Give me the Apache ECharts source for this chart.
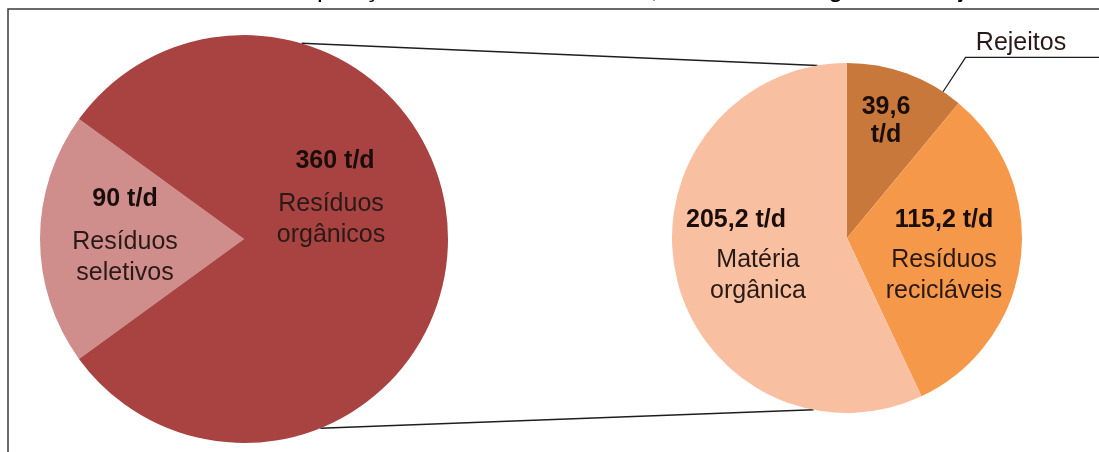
<!DOCTYPE html>
<html>
<head>
<meta charset="utf-8">
<script src="https://cdn.jsdelivr.net/npm/echarts@6/dist/echarts.min.js"></script>
<style>
  html, body { margin: 0; padding: 0; background: #fff; }
  #chart { width: 1099px; height: 452px; }
</style>
</head>
<body>
<div id="chart"></div>
<script>
// Daily waste split: total stream, then the organic stream broken down
const titleText = 'Composição dos resíduos sólidos, em toneladas geradas hoje';
const totalCategories = ['Resíduos seletivos', 'Resíduos orgânicos'];
const totalValues = [90, 360];
const organicCategories = ['Rejeitos', 'Resíduos recicláveis', 'Matéria orgânica'];
const organicValues = [39.6, 115.2, 205.2];
const unit = 't/d';

// Geometry and styling
const W = 1099;
const FONT = '"Liberation Sans", Arial, sans-serif';
const LEFT = { cx: 244, cy: 239, r: 204 };
const RIGHT = { cx: 847, cy: 238, r: 175 };
const leftColors = ['#CF8D8C', '#A84342'];
const rightColors = ['#C8783B', '#F5984A', '#F8C0A1'];
const leftLabelPos = [[125, 171], [331, 133]];
const rightLabelPos = [[886, 93], [944, 196], [758, 196]];
const rejeitosNamePos = [1021, 43];
const TEXT = '#2a1a17';
const BOLD = '#1a0e0c';

function fmt(v) { return String(v).replace('.', ','); }
function nameLines(name) { return name.split(' ').map(w => '{n|' + w + '}').join('\n'); }
function pt(c, deg, rr) {
  const a = deg * Math.PI / 180, r = rr || c.r;
  return [c.cx + r * Math.cos(a), c.cy - r * Math.sin(a)];
}

const baseRich = (vLH) => ({
  v: { fontFamily: FONT, fontSize: 25, fontWeight: 'bold', color: BOLD, lineHeight: vLH },
  vl: { fontFamily: FONT, fontSize: 25, fontWeight: 'bold', color: BOLD, lineHeight: vLH, padding: [0, 44, 0, 0] },
  vr: { fontFamily: FONT, fontSize: 25, fontWeight: 'bold', color: BOLD, lineHeight: vLH, padding: [0, 0, 0, 8] },
  r: { fontFamily: FONT, fontSize: 25, fontWeight: 'bold', color: BOLD, lineHeight: 28 },
  n: { fontFamily: FONT, fontSize: 25, color: TEXT, lineHeight: 31 }
});

const chart = echarts.init(document.getElementById('chart'), null, { renderer: 'canvas' });

const leftData = totalCategories.map((name, i) => ({
  name, value: totalValues[i], itemStyle: { color: leftColors[i] }
}));
const rightData = organicCategories.map((name, i) => ({
  name, value: organicValues[i], itemStyle: { color: rightColors[i] }
}));
const overlayData = organicCategories.map((name, i) => ({
  name, value: organicValues[i], itemStyle: { color: 'rgba(0,0,0,0)' }
}));

const leaderStart = pt(RIGHT, 56.7);
const leaderElbow = pt(RIGHT, 56.7, RIGHT.r + 41);

const option = {
  backgroundColor: '#ffffff',
  animation: false,
  series: [
    {
      type: 'pie',
      center: [LEFT.cx, LEFT.cy],
      radius: LEFT.r,
      startAngle: 216,
      clockwise: true,
      silent: true,
      avoidLabelOverlap: false,
      itemStyle: { borderWidth: 0 },
      data: leftData,
      label: {
        show: true,
        position: 'inside',
        formatter: p => '{' + (p.dataIndex === 1 ? 'vr' : 'v') + '|' + fmt(p.value) + ' ' + unit + '}\n' + nameLines(p.name),
        rich: baseRich(56)
      },
      labelLine: { show: false },
      labelLayout: p => ({
        x: leftLabelPos[p.dataIndex][0], y: leftLabelPos[p.dataIndex][1],
        align: 'center', verticalAlign: 'top'
      }),
      emphasis: { disabled: true }
    },
    {
      type: 'pie',
      center: [RIGHT.cx, RIGHT.cy],
      radius: RIGHT.r,
      startAngle: 90,
      clockwise: true,
      silent: true,
      avoidLabelOverlap: false,
      itemStyle: { borderWidth: 0 },
      data: rightData,
      label: {
        show: true,
        position: 'inside',
        formatter: p => {
          if (p.dataIndex === 0) return '{r|' + fmt(p.value) + '}\n{r|' + unit + '}';
          const key = p.dataIndex === 2 ? 'vl' : 'v';
          return '{' + key + '|' + fmt(p.value) + ' ' + unit + '}\n' + nameLines(p.name);
        },
        rich: baseRich(49)
      },
      labelLine: { show: false },
      labelLayout: p => ({
        x: rightLabelPos[p.dataIndex][0], y: rightLabelPos[p.dataIndex][1],
        align: 'center', verticalAlign: 'top'
      }),
      emphasis: { disabled: true }
    },
    {
      // outside name for the smallest slice
      type: 'pie',
      center: [RIGHT.cx, RIGHT.cy],
      radius: RIGHT.r,
      startAngle: 90,
      clockwise: true,
      silent: true,
      avoidLabelOverlap: false,
      z: 5,
      data: overlayData,
      label: {
        show: true,
        position: 'outside',
        formatter: p => p.dataIndex === 0 ? '{n|' + p.name + '}' : '',
        rich: baseRich(40)
      },
      labelLine: { show: false },
      labelLayout: p => p.dataIndex === 0 ? ({
        x: rejeitosNamePos[0], y: rejeitosNamePos[1],
        align: 'center', verticalAlign: 'middle'
      }) : {},
      emphasis: { disabled: true }
    }
  ],
  graphic: [
    {
      type: 'text', x: 262, y: 3, silent: true,
      style: { text: titleText, font: '26px ' + FONT, fill: '#000', align: 'left', verticalAlign: 'bottom' }
    },
    {
      type: 'rect', silent: true,
      shape: { x: 8, y: 9, width: 1300, height: 700 },
      style: { fill: 'none', stroke: '#3a3a3a', lineWidth: 1.5 }
    },
    {
      type: 'line', silent: true,
      shape: (() => { const a = pt(LEFT, 73.6), b = pt(RIGHT, 99.7); return { x1: a[0], y1: a[1], x2: b[0], y2: b[1] }; })(),
      style: { stroke: '#1e1e1e', lineWidth: 1.5 }
    },
    {
      type: 'line', silent: true,
      shape: (() => { const a = pt(LEFT, -68), b = pt(RIGHT, -101); return { x1: a[0], y1: a[1], x2: b[0], y2: b[1] }; })(),
      style: { stroke: '#1e1e1e', lineWidth: 1.5 }
    },
    {
      type: 'polyline', silent: true, z: 10,
      shape: { points: [leaderStart, leaderElbow, [W, leaderElbow[1]]] },
      style: { stroke: '#1e1e1e', lineWidth: 1.3, fill: 'none' }
    }
  ]
};

chart.setOption(option);
</script>
</body>
</html>
